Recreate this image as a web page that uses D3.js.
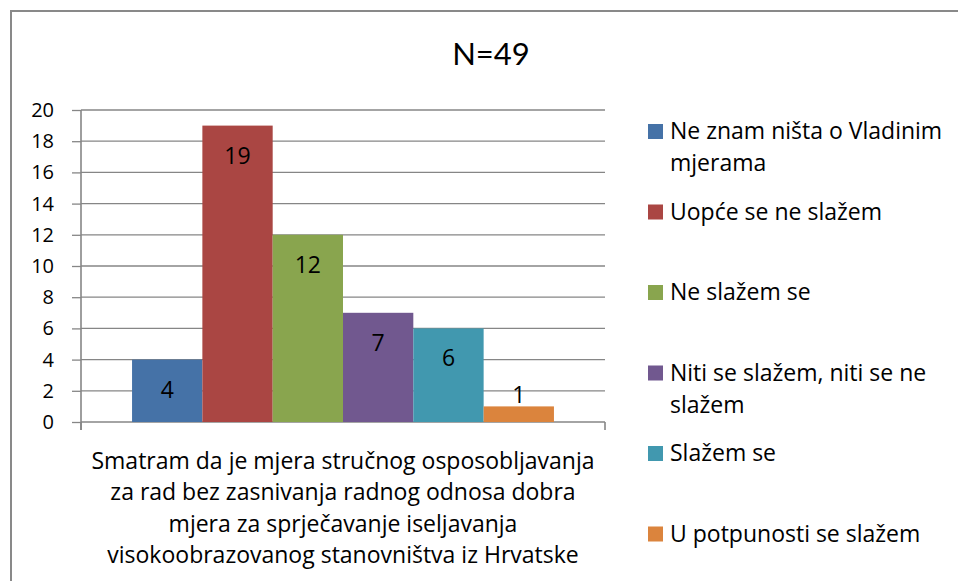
<!DOCTYPE html>
<html>
<head>
<meta charset="utf-8">
<script src="https://cdn.jsdelivr.net/npm/d3@7"></script>
<style>
    html, body { margin: 0; padding: 0; background: #fff; }
    svg text { font-family: 'Open Sans', Lato, sans-serif; fill: #000; }
</style>
</head>
<body>
<div id="chart"></div>
<script>
var title = 'N=49';
var categoryLines = [
    'Smatram da je mjera stručnog osposobljavanja',
    'za rad bez zasnivanja radnog odnosa dobra',
    'mjera za sprječavanje iseljavanja',
    'visokoobrazovanog stanovništva iz Hrvatske'
];
var seriesNames = [
    ['Ne znam ništa o Vladinim', 'mjerama'],
    ['Uopće se ne slažem'],
    ['Ne slažem se'],
    ['Niti se slažem, niti se ne', 'slažem'],
    ['Slažem se'],
    ['U potpunosti se slažem']
];
var seriesValues = [4, 19, 12, 7, 6, 1];
var seriesColors = ['#4572a7', '#aa4643', '#89a54e', '#71588f', '#4198af', '#db843d'];
var yTicks = [0, 2, 4, 6, 8, 10, 12, 14, 16, 18, 20];

(function() {
    var fullWidth = 958, fullHeight = 581;
    var plot = {left: 81, right: 605, top: 110, bottom: 422};
    var gridColor = '#868686';
    var textSize = '23px';

    var svg = d3.select('#chart').append('svg')
        .attr('width', fullWidth)
        .attr('height', fullHeight);

    // Outer chart border (runs past the right and bottom edge).
    svg.append('rect')
        .attr('x', 11).attr('y', 11)
        .attr('width', 1000).attr('height', 1000)
        .attr('fill', 'none')
        .attr('stroke', '#898989')
        .attr('stroke-width', 2);

    svg.append('text')
        .attr('x', 491).attr('y', 65)
        .attr('text-anchor', 'middle')
        .style('font-family', 'Lato, sans-serif')
        .style('font-size', '31px')
        .text(title);

    var y = d3.scaleLinear().domain([0, 20]).range([plot.bottom, plot.top]);
    var x0 = d3.scaleBand().domain(['q']).range([plot.left, plot.right])
        .paddingInner(0).paddingOuter(0.121);
    var x1 = d3.scaleBand().domain(d3.range(seriesValues.length))
        .range([0, x0.bandwidth()]);

    // Gridlines.
    svg.append('g').selectAll('line')
        .data(yTicks.slice(1))
        .enter().append('line')
        .attr('x1', plot.left).attr('x2', plot.right)
        .attr('y1', function(d) { return y(d); })
        .attr('y2', function(d) { return y(d); })
        .attr('stroke', gridColor).attr('stroke-width', 1.3);

    // Y axis.
    var yAxis = d3.axisLeft(y).tickValues(yTicks).tickSize(9).tickPadding(18);
    var gy = svg.append('g')
        .attr('transform', 'translate(' + plot.left + ',0)')
        .call(yAxis);
    gy.select('.domain').remove();
    gy.selectAll('.tick line').attr('stroke', gridColor).attr('stroke-width', 1.3);
    gy.selectAll('.tick text')
        .style('font-family', "'Open Sans', sans-serif")
        .style('font-size', '20px')
        .attr('fill', '#000');
    svg.append('line')
        .attr('x1', plot.left).attr('x2', plot.left)
        .attr('y1', y(20)).attr('y2', y(0) + 8)
        .attr('stroke', gridColor).attr('stroke-width', 1.6);

    // X axis line with ticks at category edges.
    svg.append('line')
        .attr('x1', plot.left).attr('x2', plot.right)
        .attr('y1', y(0)).attr('y2', y(0))
        .attr('stroke', gridColor).attr('stroke-width', 1.6);
    svg.append('g').selectAll('line')
        .data(x0.range())
        .enter().append('line')
        .attr('x1', function(d) { return d; })
        .attr('x2', function(d) { return d; })
        .attr('y1', y(0)).attr('y2', y(0) + 8)
        .attr('stroke', gridColor).attr('stroke-width', 1.6);

    // Bars.
    var bx = x0('q');
    svg.append('g').selectAll('rect')
        .data(seriesValues)
        .enter().append('rect')
        .attr('x', function(d, i) { return bx + x1(i); })
        .attr('y', function(d) { return y(d); })
        .attr('width', x1.bandwidth())
        .attr('height', function(d) { return y(0) - y(d); })
        .attr('fill', function(d, i) { return seriesColors[i]; });

    // Value labels.
    svg.append('g').selectAll('text')
        .data(seriesValues)
        .enter().append('text')
        .attr('x', function(d, i) { return bx + x1(i) + x1.bandwidth() / 2; })
        .attr('y', function(d) {
            var h = y(0) - y(d);
            return h > 45 ? y(d) + 38 : y(d) - 3;
        })
        .attr('text-anchor', 'middle')
        .style('font-size', textSize)
        .text(function(d) { return d; });

    // Category label.
    svg.append('g').selectAll('text')
        .data(categoryLines)
        .enter().append('text')
        .attr('x', bx + x0.bandwidth() / 2)
        .attr('y', function(d, i) { return 469 + i * 31.3; })
        .attr('text-anchor', 'middle')
        .style('font-size', textSize)
        .text(function(d) { return d; });

    // Legend.
    var legend = svg.append('g').selectAll('g')
        .data(seriesNames)
        .enter().append('g')
        .attr('transform', function(d, i) { return 'translate(648,' + (139 + i * 80.5) + ')'; });

    legend.append('rect')
        .attr('x', 0).attr('y', -15)
        .attr('width', 15).attr('height', 15)
        .attr('fill', function(d, i) { return seriesColors[i]; });

    legend.each(function(lines) {
        d3.select(this).selectAll('text')
            .data(lines)
            .enter().append('text')
            .attr('x', 22)
            .attr('y', function(d, j) { return j * 32; })
            .style('font-size', textSize)
            .text(function(d) { return d; });
    });
})();
</script>
</body>
</html>
